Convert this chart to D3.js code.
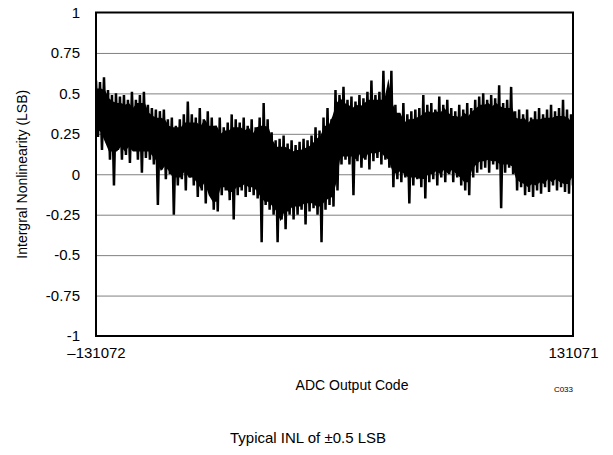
<!DOCTYPE html>
<html>
<head>
<meta charset="utf-8">
<script src="https://cdn.jsdelivr.net/npm/d3@7"></script>
<style>
  html, body { margin: 0; padding: 0; background: #fff; }
  svg { display: block; }
  text { font-family: "Liberation Sans", Arial, Helvetica, sans-serif; fill: #000; }
</style>
</head>
<body>
<svg id="chart" width="613" height="455"></svg>
<script>
// ---- data ----
const xDomain = [-131072, 131071];
const xTickLabels = ["\u2013131072", "131071"];
const yTicks = [-1, -0.75, -0.5, -0.25, 0, 0.25, 0.5, 0.75, 1];
const yTickLabels = ["-1", "-0.75", "-0.5", "-0.25", "0", "0.25", "0.5", "0.75", "1"];

// local upper excursions of INL (LSB), left to right
const inlPeaks = [
  0.58, 0.57, 0.60, 0.52, 0.49, 0.50, 0.48, 0.49, 0.46, 0.51,
  0.46, 0.49, 0.51, 0.43, 0.41, 0.40, 0.39, 0.40, 0.34, 0.35,
  0.30, 0.34, 0.37, 0.45, 0.37, 0.35, 0.41, 0.34, 0.39, 0.35,
  0.30, 0.35, 0.29, 0.32, 0.37, 0.34, 0.32, 0.35, 0.30, 0.34,
  0.29, 0.35, 0.44, 0.34, 0.26, 0.21, 0.22, 0.24, 0.19, 0.21,
  0.18, 0.20, 0.22, 0.21, 0.24, 0.29, 0.27, 0.35, 0.41, 0.34,
  0.52, 0.49, 0.54, 0.46, 0.48, 0.45, 0.49, 0.47, 0.51, 0.58,
  0.49, 0.51, 0.64, 0.49, 0.64, 0.43, 0.37, 0.44, 0.37, 0.39,
  0.40, 0.41, 0.49, 0.43, 0.44, 0.40, 0.48, 0.43, 0.46, 0.41,
  0.39, 0.43, 0.40, 0.44, 0.41, 0.46, 0.48, 0.50, 0.46, 0.49,
  0.47, 0.55, 0.44, 0.46, 0.54, 0.39, 0.40, 0.37, 0.40, 0.35,
  0.39, 0.41, 0.37, 0.40, 0.43, 0.39, 0.41, 0.46, 0.40, 0.37
];
// local lower excursions of INL (LSB), left to right
const inlTroughs = [
  0.23, 0.15, 0.21, 0.09, -0.07, 0.15, 0.09, 0.12, 0.07, 0.15,
  0.09, 0.01, 0.10, 0.09, 0.06, -0.19, 0.03, -0.03, 0.00, -0.25,
  -0.07, -0.03, -0.10, -0.02, -0.07, -0.14, -0.10, -0.18, -0.10, -0.22,
  -0.23, -0.13, -0.10, -0.16, -0.28, -0.13, -0.10, -0.14, -0.11, -0.13,
  -0.15, -0.42, -0.19, -0.22, -0.25, -0.42, -0.28, -0.34, -0.25, -0.28,
  -0.25, -0.22, -0.31, -0.23, -0.21, -0.25, -0.42, -0.22, -0.19, -0.20,
  -0.10, 0.06, 0.09, 0.06, -0.13, 0.08, 0.04, 0.09, 0.03, 0.08,
  0.10, 0.06, 0.09, 0.04, -0.08, -0.03, -0.05, -0.02, -0.18, -0.07,
  -0.03, -0.08, -0.15, -0.05, -0.03, -0.07, -0.02, -0.05, 0.00, -0.05,
  -0.02, -0.07, -0.10, -0.13, -0.02, 0.01, 0.03, 0.04, 0.01, 0.06,
  0.03, -0.21, 0.01, 0.04, 0.00, -0.10, -0.08, -0.13, -0.11, -0.14,
  -0.10, -0.12, -0.08, -0.11, -0.07, -0.10, -0.08, -0.11, -0.12, -0.07
];

// ---- build series (alternating peak / trough as traced) ----
const series = [];
for (let i = 0; i < inlPeaks.length; i++) {
  series.push(inlPeaks[i]);
  series.push(inlTroughs[i]);
}
const n = series.length;
const codeStep = (xDomain[1] - xDomain[0]) / (n - 1);
const points = series.map((v, j) => ({ code: xDomain[0] + j * codeStep, inl: v }));

// dense core of the trace: 3-point median of the traced excursions, drawn slightly inside them
const med3 = (arr, i) => {
  const a = [arr[Math.max(0, i - 1)], arr[i], arr[Math.min(arr.length - 1, i + 1)]].sort((p, q) => p - q);
  return a[1];
};
const inset = 0.05;
const core = inlPeaks.map((p, i) => ({
  code: xDomain[0] + (2 * i + 0.5) * codeStep,
  hi: med3(inlPeaks, i) - inset,
  lo: med3(inlTroughs, i) + inset
}));

// ---- layout ----
const margin = { left: 96, right: 40, top: 12.5, bottom: 119 };
const W = 613, H = 455;
const svg = d3.select("#chart");

const x = d3.scaleLinear().domain(xDomain).range([margin.left, W - margin.right]);
const y = d3.scaleLinear().domain([-1, 1]).range([H - margin.bottom, margin.top]);

// gridlines
const yAxisGrid = d3.axisLeft(y)
  .tickValues(yTicks.filter(t => t > -1 && t < 1))
  .tickSize(-(W - margin.left - margin.right))
  .tickFormat("");
svg.append("g")
  .attr("transform", `translate(${margin.left},0)`)
  .call(yAxisGrid)
  .call(g => g.select(".domain").remove())
  .call(g => g.selectAll("line").attr("stroke", "#808080").attr("stroke-width", 1));

// data
const clipId = "plotclip";
svg.append("clipPath").attr("id", clipId)
  .append("rect")
  .attr("x", margin.left).attr("y", margin.top)
  .attr("width", W - margin.left - margin.right)
  .attr("height", H - margin.top - margin.bottom);

const plot = svg.append("g").attr("clip-path", `url(#${clipId})`);

const area = d3.area().x(d => x(d.code)).y0(d => y(d.lo)).y1(d => y(d.hi));
plot.append("path")
  .datum(core)
  .attr("fill", "#000")
  .attr("stroke", "none")
  .attr("d", area);

const line = d3.line().x(d => x(d.code)).y(d => y(d.inl));
plot.append("path")
  .datum(points)
  .attr("fill", "none")
  .attr("stroke", "#000")
  .attr("stroke-width", 2.5)
  .attr("stroke-linejoin", "miter")
  .attr("d", line);

// frame
svg.append("rect")
  .attr("x", margin.left).attr("y", margin.top)
  .attr("width", W - margin.left - margin.right)
  .attr("height", H - margin.top - margin.bottom)
  .attr("fill", "none").attr("stroke", "#000").attr("stroke-width", 2);

// y axis labels
const yAxis = d3.axisLeft(y)
  .tickValues(yTicks)
  .tickSize(0)
  .tickPadding(16)
  .tickFormat((d, i) => yTickLabels[i]);
svg.append("g")
  .attr("transform", `translate(${margin.left},0)`)
  .call(yAxis)
  .call(g => g.select(".domain").remove())
  .call(g => g.selectAll("text")
    .attr("font-size", 15)
    .attr("font-family", "'Liberation Sans', Arial, sans-serif")
    .attr("fill", "#000"));

// x axis labels
const xAxis = d3.axisBottom(x)
  .tickValues(xDomain)
  .tickSize(0)
  .tickPadding(11)
  .tickFormat((d, i) => xTickLabels[i]);
svg.append("g")
  .attr("transform", `translate(0,${H - margin.bottom})`)
  .call(xAxis)
  .call(g => g.select(".domain").remove())
  .call(g => g.selectAll("text")
    .attr("font-size", 15)
    .attr("font-family", "'Liberation Sans', Arial, sans-serif")
    .attr("fill", "#000"));

// axis titles
svg.append("text")
  .attr("x", 352)
  .attr("y", 390)
  .attr("text-anchor", "middle")
  .attr("font-size", 14)
  .text("ADC Output Code");

svg.append("text")
  .attr("transform", `translate(27,${(margin.top + H - margin.bottom) / 2}) rotate(-90)`)
  .attr("text-anchor", "middle")
  .attr("font-size", 14)
  .text("Intergral Nonlinearity (LSB)");

svg.append("text")
  .attr("x", 573)
  .attr("y", 392)
  .attr("text-anchor", "end")
  .attr("font-size", 8)
  .text("C033");

svg.append("text")
  .attr("x", 308)
  .attr("y", 443)
  .attr("text-anchor", "middle")
  .attr("font-size", 15)
  .text("Typical INL of \u00b10.5 LSB");
</script>
</body>
</html>
